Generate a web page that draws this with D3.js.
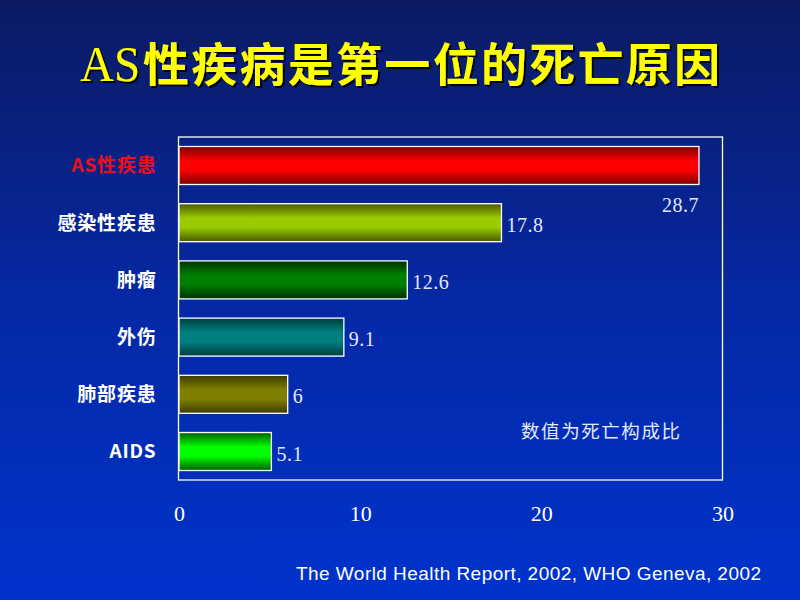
<!DOCTYPE html>
<html>
<head>
<meta charset="utf-8">
<script src="https://cdn.jsdelivr.net/npm/d3@7"></script>
<style>
  body { margin: 0; background: #0a1d70; }
  svg { display: block; }
</style>
</head>
<body>
<script>
// 数据
let categories = ["AS性疾患", "感染性疾患", "肿瘤", "外伤", "肺部疾患", "AIDS"];
let values = [28.7, 17.8, 12.6, 9.1, 6, 5.1];
let labelText = ["28.7", "17.8", "12.6", "9.1", "6", "5.1"];
let xTicks = [0, 10, 20, 30];
// 渐变色: 边缘 / 中间
let edgeColors = ["#7a0000", "#4a5800", "#003000", "#003c3c", "#3c3c00", "#006000"];
let midColors = ["#ff0000", "#99cc00", "#008000", "#008080", "#808000", "#00ff00"];

let W = 800, H = 600;
let svg = d3.select("body").append("svg")
    .attr("width", W)
    .attr("height", H);

let defs = svg.append("defs");
let bg = defs.append("linearGradient")
    .attr("id", "bg").attr("x1", 0).attr("y1", 0).attr("x2", 0).attr("y2", 1);
bg.append("stop").attr("offset", "0%").attr("stop-color", "#0b1a62");
bg.append("stop").attr("offset", "50%").attr("stop-color", "#0528a4");
bg.append("stop").attr("offset", "100%").attr("stop-color", "#0033cc");

categories.forEach((c, i) => {
    let g = defs.append("linearGradient")
        .attr("id", "bar" + i).attr("x1", 0).attr("y1", 0).attr("x2", 0).attr("y2", 1);
    g.append("stop").attr("offset", "0%").attr("stop-color", edgeColors[i]);
    g.append("stop").attr("offset", "38%").attr("stop-color", midColors[i]);
    g.append("stop").attr("offset", "62%").attr("stop-color", midColors[i]);
    g.append("stop").attr("offset", "100%").attr("stop-color", edgeColors[i]);
});

let shadow = defs.append("filter").attr("id", "shadow")
    .attr("x", "-10%").attr("y", "-20%").attr("width", "120%").attr("height", "140%");
shadow.append("feDropShadow")
    .attr("dx", 2).attr("dy", 2).attr("stdDeviation", 0.6)
    .attr("flood-color", "#000000").attr("flood-opacity", 0.9);

svg.append("rect")
    .attr("width", W).attr("height", H)
    .attr("fill", "url(#bg)");

// 标题
let title = svg.append("text")
    .attr("x", 80).attr("y", 81)
    .attr("fill", "#ffff00")
    .attr("filter", "url(#shadow)");
title.append("tspan")
    .style("font-family", "'Liberation Serif', serif")
    .style("font-size", "50px")
    .style("font-weight", "normal")
    .attr("textLength", 60)
    .attr("lengthAdjust", "spacingAndGlyphs")
    .text("AS");
title.append("tspan")
    .attr("x", 143)
    .style("font-family", "'Noto Sans CJK SC', sans-serif")
    .style("font-size", "46px")
    .style("font-weight", "bold")
    .attr("textLength", 577)
    .attr("lengthAdjust", "spacing")
    .text("性疾病是第一位的死亡原因");

// 比例尺
let box = {left: 178.5, right: 722.5, top: 137, bottom: 480};

let x = d3.scaleLinear()
    .domain([0, 30])
    .range([box.left + 0.5, box.right]);

let y = d3.scaleBand()
    .domain(categories)
    .range([box.top, box.bottom])
    .paddingInner(0.336)
    .paddingOuter(0.166);

// 外框
svg.append("rect")
    .attr("x", box.left).attr("y", box.top)
    .attr("width", box.right - box.left)
    .attr("height", box.bottom - box.top)
    .attr("fill", "none")
    .attr("stroke", "#ffffff")
    .attr("stroke-width", 1.3);

// 柱
svg.append("g")
    .selectAll("rect")
    .data(values)
    .join("rect")
    .attr("x", x(0))
    .attr("y", (d, i) => y(categories[i]))
    .attr("width", d => x(d) - x(0))
    .attr("height", y.bandwidth())
    .attr("fill", (d, i) => "url(#bar" + i + ")")
    .attr("stroke", "#ffffff")
    .attr("stroke-width", 1.3);

// 数值标签
svg.append("g")
    .selectAll("text")
    .data(values)
    .join("text")
    .attr("x", (d, i) => i === 0 ? x(d) : x(d) + 5)
    .attr("y", (d, i) => i === 0 ? y(categories[i]) + y.bandwidth() + 28 : y(categories[i]) + y.bandwidth() / 2 + 9)
    .attr("text-anchor", (d, i) => i === 0 ? "end" : "start")
    .attr("fill", "#e4e8ff")
    .style("font-family", "'Liberation Serif', serif")
    .style("font-size", "20px")
    .style("letter-spacing", "0.5px")
    .text((d, i) => labelText[i]);

// 左轴
let yAxis = svg.append("g")
    .attr("transform", "translate(" + box.left + ",0)")
    .call(d3.axisLeft(y).tickSize(0).tickPadding(22));
yAxis.select(".domain").remove();
yAxis.selectAll("text")
    .attr("fill", (d, i) => i === 0 ? "#e8101c" : "#ffffff")
    .attr("dy", "0.36em")
    .style("font-family", "'Noto Sans CJK SC', 'Liberation Sans', sans-serif")
    .style("font-size", "19px")
    .style("font-weight", "bold")
    .style("letter-spacing", "0.8px");

// 下轴
let xAxis = svg.append("g")
    .attr("transform", "translate(0," + box.bottom + ")")
    .call(d3.axisBottom(x).tickValues(xTicks).tickSize(0).tickPadding(25));
xAxis.select(".domain").remove();
xAxis.selectAll("text")
    .attr("fill", "#ffffff")
    .style("font-family", "'Liberation Serif', serif")
    .style("font-size", "22px");

// 注释
svg.append("text")
    .attr("x", 521).attr("y", 438)
    .attr("fill", "#e4e8ff")
    .attr("textLength", 159)
    .style("font-family", "'Noto Sans CJK SC', sans-serif")
    .style("font-size", "18.5px")
    .text("数值为死亡构成比");

// 来源
svg.append("text")
    .attr("x", 296).attr("y", 580)
    .attr("fill", "#ffffff")
    .attr("textLength", 465)
    .style("font-family", "'Liberation Sans', Arial, sans-serif")
    .style("font-size", "19px")
    .text("The World Health  Report, 2002, WHO  Geneva, 2002");
</script>
</body>
</html>
